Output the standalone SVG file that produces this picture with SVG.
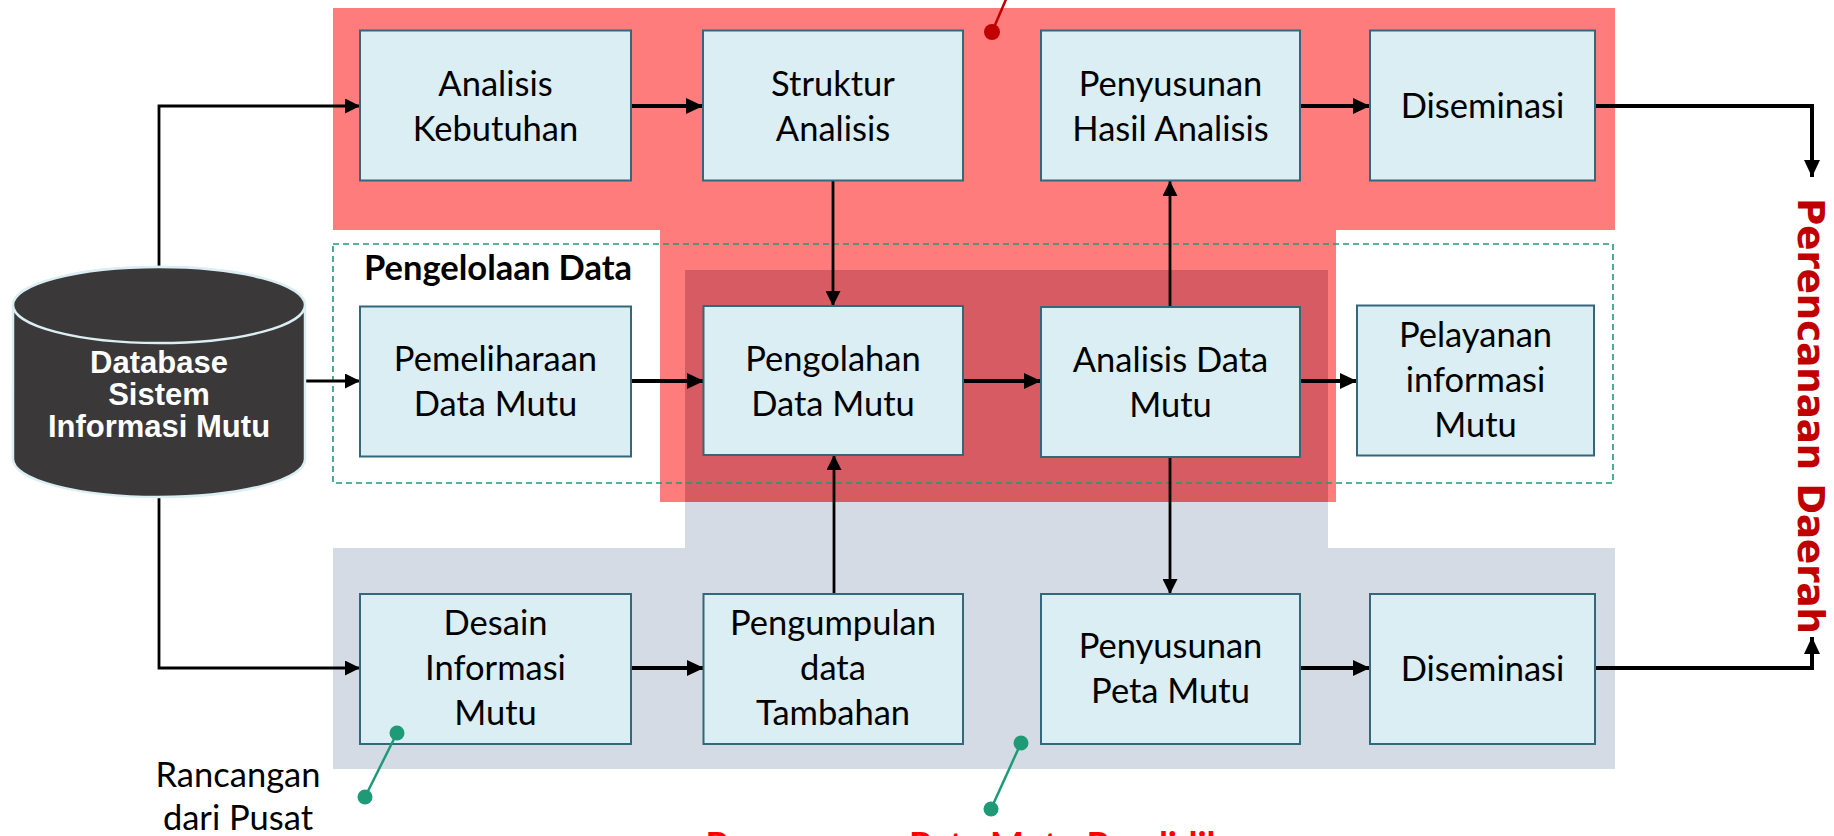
<svg xmlns="http://www.w3.org/2000/svg" width="1834" height="836" viewBox="0 0 1834 836">
  <style>
    .box { fill: #DAEEF3; stroke: #31687C; stroke-width: 2; }
    .lbl { font-family: Lato, "Open Sans", sans-serif; font-size: 34.5px; fill: #000; text-anchor: middle; }
    .db { font-family: "Liberation Sans", Arial, sans-serif; font-weight: bold; font-size: 31px; fill: #fff; text-anchor: middle; }
    .thin { fill: none; stroke: #000; stroke-width: 2.8; }
    .thick { fill: none; stroke: #000; stroke-width: 4; }
    .note { stroke: #1E9B76; stroke-width: 2.5; fill: none; }
    .dot { fill: #1E9B76; }
  </style>
  <defs>
    <marker id="ah" markerUnits="userSpaceOnUse" markerWidth="15" markerHeight="15" refX="15" refY="7.5" orient="auto">
      <path d="M0,0 L15,7.5 L0,15 Z" fill="#000"/>
    </marker>
    <marker id="ahb" markerUnits="userSpaceOnUse" markerWidth="17" markerHeight="16" refX="17" refY="8" orient="auto">
      <path d="M0,0 L17,8 L0,16 Z" fill="#000"/>
    </marker>
  </defs>

  <rect width="1834" height="836" fill="#fff"/>

  <!-- background bands -->
  <g id="bands">
    <path d="M333,548 H685 V270 H1328 V548 H1615 V769 H333 Z" fill="#D5DBE5"/>
    <path d="M333,8 H1615 V230 H1336 V502 H660 V230 H333 Z" fill="#FF7C7C"/>
    <rect x="685" y="270" width="643" height="232" fill="#D65B62"/>
  </g>

  <!-- data management frame -->
  <g id="pengelolaan">
    <rect x="333" y="244" width="1280" height="239" fill="none" stroke="#1E9B76" stroke-width="1.6" stroke-dasharray="6,4"/>
    <text x="364" y="280" font-family="Lato, 'Open Sans', sans-serif" font-weight="bold" font-size="34.5" fill="#000">Pengelolaan Data</text>
  </g>

  <!-- connectors -->
  <g id="connectors">
    <path class="thin" d="M159,267 V106 H360" marker-end="url(#ah)"/>
    <path class="thick" d="M631,106 H703" marker-end="url(#ahb)"/>
    <path class="thin" d="M833,181 V306" marker-end="url(#ah)"/>
    <path class="thick" d="M1300,106 H1370" marker-end="url(#ahb)"/>
    <path class="thick" d="M1595,106 H1812 V177" marker-end="url(#ahb)"/>
    <path class="thin" d="M1170,307 V181" marker-end="url(#ah)"/>
    <path class="thin" d="M305,381 H360" marker-end="url(#ah)"/>
    <path class="thick" d="M631,381 H704" marker-end="url(#ahb)"/>
    <path class="thick" d="M963,381 H1041" marker-end="url(#ahb)"/>
    <path class="thick" d="M1300,381 H1357" marker-end="url(#ahb)"/>
    <path class="thin" d="M1170,457 V594" marker-end="url(#ah)"/>
    <path class="thin" d="M834,594 V455" marker-end="url(#ah)"/>
    <path class="thin" d="M159,497 V668 H360" marker-end="url(#ah)"/>
    <path class="thick" d="M631,668 H704" marker-end="url(#ahb)"/>
    <path class="thick" d="M1300,668 H1370" marker-end="url(#ahb)"/>
    <path class="thick" d="M1595,668 H1812 V637" marker-end="url(#ahb)"/>
  </g>

  <!-- database -->
  <g id="database">
    <path d="M13,305 A146,38 0 0 1 305,305 V459 A146,38 0 0 1 13,459 Z" fill="#3A3838" stroke="#DAEEF3" stroke-width="2.5"/>
    <ellipse cx="159" cy="305" rx="146" ry="38" fill="#3A3838" stroke="#DAEEF3" stroke-width="2.5"/>
    <text class="db" x="159" y="373">Database</text>
    <text class="db" x="159" y="405">Sistem</text>
    <text class="db" x="159" y="437">Informasi Mutu</text>
  </g>

  <!-- top row -->
  <g id="analisis-kebutuhan">
    <rect class="box" x="360" y="30.5" width="271" height="150"/>
    <text class="lbl" x="495.5" y="95.5">Analisis</text>
    <text class="lbl" x="495.5" y="140.5">Kebutuhan</text>
  </g>
  <g id="struktur-analisis">
    <rect class="box" x="703" y="30.5" width="260" height="150"/>
    <text class="lbl" x="833" y="95.5">Struktur</text>
    <text class="lbl" x="833" y="140.5">Analisis</text>
  </g>
  <g id="penyusunan-hasil">
    <rect class="box" x="1041" y="30.5" width="259" height="150"/>
    <text class="lbl" x="1170.5" y="95.5">Penyusunan</text>
    <text class="lbl" x="1170.5" y="140.5">Hasil Analisis</text>
  </g>
  <g id="diseminasi-atas">
    <rect class="box" x="1370" y="30.5" width="225" height="150"/>
    <text class="lbl" x="1482.5" y="117.5">Diseminasi</text>
  </g>

  <!-- middle row -->
  <g id="pemeliharaan">
    <rect class="box" x="360" y="306.5" width="271" height="150"/>
    <text class="lbl" x="495.5" y="371">Pemeliharaan</text>
    <text class="lbl" x="495.5" y="416">Data Mutu</text>
  </g>
  <g id="pengolahan">
    <rect class="box" x="703.5" y="306" width="259.5" height="149"/>
    <text class="lbl" x="833" y="370.5">Pengolahan</text>
    <text class="lbl" x="833" y="415.5">Data Mutu</text>
  </g>
  <g id="analisis-data">
    <rect class="box" x="1041" y="307" width="259" height="150"/>
    <text class="lbl" x="1170.5" y="372">Analisis Data</text>
    <text class="lbl" x="1170.5" y="417">Mutu</text>
  </g>
  <g id="pelayanan">
    <rect class="box" x="1357" y="305.5" width="237" height="150"/>
    <text class="lbl" x="1475.5" y="347">Pelayanan</text>
    <text class="lbl" x="1475.5" y="392">informasi</text>
    <text class="lbl" x="1475.5" y="437">Mutu</text>
  </g>

  <!-- bottom row -->
  <g id="desain">
    <rect class="box" x="360" y="594" width="271" height="150"/>
    <text class="lbl" x="495.5" y="635">Desain</text>
    <text class="lbl" x="495.5" y="680">Informasi</text>
    <text class="lbl" x="495.5" y="725">Mutu</text>
  </g>
  <g id="pengumpulan">
    <rect class="box" x="703.5" y="594" width="259.5" height="150"/>
    <text class="lbl" x="833" y="635">Pengumpulan</text>
    <text class="lbl" x="833" y="680">data</text>
    <text class="lbl" x="833" y="725">Tambahan</text>
  </g>
  <g id="penyusunan-peta">
    <rect class="box" x="1041" y="594" width="259" height="150"/>
    <text class="lbl" x="1170.5" y="658">Penyusunan</text>
    <text class="lbl" x="1170.5" y="703">Peta Mutu</text>
  </g>
  <g id="diseminasi-bawah">
    <rect class="box" x="1370" y="594" width="225" height="150"/>
    <text class="lbl" x="1482.5" y="681">Diseminasi</text>
  </g>

  <!-- side label -->
  <g id="perencanaan-daerah">
    <text transform="translate(1798,416) rotate(90)" text-anchor="middle" font-family="'DejaVu Sans', sans-serif" font-weight="bold" font-size="38" fill="#C00000" textLength="436" lengthAdjust="spacingAndGlyphs">Perencanaan Daerah</text>
  </g>

  <!-- callouts -->
  <g id="callouts">
    <line x1="992" y1="32" x2="1010" y2="-10" stroke="#C00000" stroke-width="2.5"/>
    <circle cx="992" cy="32" r="8" fill="#C00000"/>
    <line class="note" x1="397" y1="733" x2="365" y2="797"/>
    <circle class="dot" cx="397" cy="733" r="7.5"/>
    <circle class="dot" cx="365" cy="797" r="7.5"/>
    <line class="note" x1="1021" y1="743" x2="991" y2="809"/>
    <circle class="dot" cx="1021" cy="743" r="7.5"/>
    <circle class="dot" cx="991" cy="809" r="7.5"/>
    <text class="lbl" x="238" y="787">Rancangan</text>
    <text class="lbl" x="238" y="830">dari Pusat</text>
    <text x="985" y="858" text-anchor="middle" font-family="Lato, 'Open Sans', sans-serif" font-weight="bold" font-size="36" fill="#FF0000">Penyusunan Peta Mutu Pendidikan</text>
  </g>
</svg>
